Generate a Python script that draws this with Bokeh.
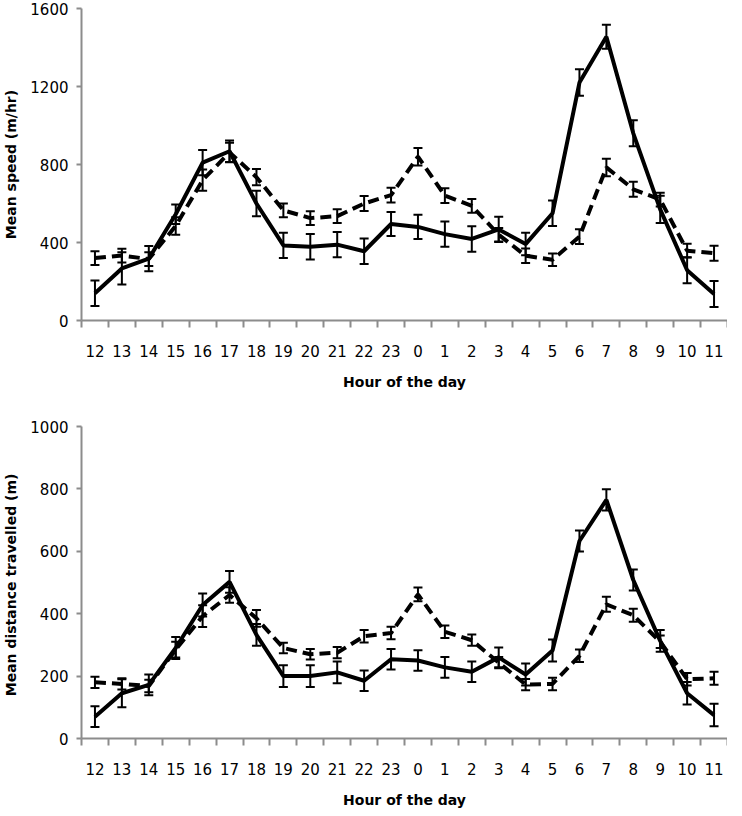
from bokeh.plotting import figure
from bokeh.layouts import column
from bokeh.models import ColumnDataSource, Whisker, FixedTicker, TeeHead, Range1d
from bokeh.embed import file_html
from bokeh.resources import INLINE

hours = ["12", "13", "14", "15", "16", "17", "18", "19", "20", "21", "22", "23",
         "0", "1", "2", "3", "4", "5", "6", "7", "8", "9", "10", "11"]

# Top panel: mean speed (m/hr)
speed_solid = [140, 267, 317, 545, 810, 868, 600, 385, 378, 389, 355, 495,
               480, 443, 418, 467, 392, 550, 1220, 1455, 960, 570, 258, 136]
speed_solid_err = [65, 83, 65, 50, 65, 55, 65, 65, 65, 65, 65, 62,
                   62, 65, 65, 65, 58, 65, 68, 62, 67, 70, 67, 67]
speed_dashed = [320, 333, 315, 485, 720, 862, 735, 565, 525, 535, 600, 643,
                840, 640, 588, 440, 332, 312, 430, 785, 673, 620, 358, 345]
speed_dashed_err = [35, 35, 35, 45, 55, 50, 42, 35, 35, 35, 38, 38,
                    45, 38, 35, 35, 37, 32, 38, 45, 38, 35, 35, 38]

# Bottom panel: mean distance travelled (m)
dist_solid = [70, 145, 172, 290, 428, 502, 332, 200, 200, 212, 185, 254,
              250, 228, 214, 260, 205, 282, 633, 765, 508, 313, 145, 75]
dist_solid_err = [33, 45, 33, 35, 37, 35, 35, 35, 35, 35, 33, 33,
                  33, 33, 33, 32, 35, 35, 34, 34, 34, 35, 36, 36]
dist_dashed = [180, 175, 168, 285, 392, 460, 385, 290, 270, 275, 328, 338,
               462, 342, 315, 243, 173, 175, 265, 430, 395, 310, 190, 193]
dist_dashed_err = [18, 18, 20, 25, 35, 25, 27, 17, 17, 18, 20, 20,
                   22, 20, 18, 18, 18, 20, 20, 24, 21, 20, 20, 21]

speed_ticks = [0, 400, 800, 1200, 1600]
dist_ticks = [0, 200, 400, 600, 800, 1000]

FONT = "DejaVu Sans"
AXIS_COL = "#8c8c8c"


def make_panel(solid, solid_err, dashed, dashed_err, ymax, yticks, ylabel,
               border_top):
    n = len(hours)
    centers = [i + 0.5 for i in range(n)]
    bounds = [float(i) for i in range(n + 1)]
    p = figure(frame_width=646, frame_height=312, output_backend="svg",
               toolbar_location=None, x_range=Range1d(0, n),
               y_range=Range1d(0, ymax), min_border_left=80,
               min_border_right=0, min_border_top=border_top,
               min_border_bottom=60)
    p.outline_line_color = None
    p.xgrid.visible = False
    p.ygrid.visible = False

    # x axis: labels at centres, ticks at category boundaries
    xa = p.xaxis[0]
    xa.ticker = FixedTicker(ticks=centers, minor_ticks=bounds)
    xa.major_label_overrides = {c: h for c, h in zip(centers, hours)}
    xa.major_tick_line_color = None
    xa.major_tick_out = 0
    xa.major_tick_in = 0
    xa.minor_tick_out = 7
    xa.minor_tick_in = 0
    xa.minor_tick_line_color = AXIS_COL
    xa.minor_tick_line_width = 2
    xa.axis_line_color = AXIS_COL
    xa.axis_line_width = 2
    xa.major_label_standoff = 17
    xa.major_label_text_font = FONT
    xa.major_label_text_font_size = "15px"
    xa.major_label_text_color = "black"
    xa.axis_label = "Hour of the day"
    xa.axis_label_text_font = FONT
    xa.axis_label_text_font_style = "bold"
    xa.axis_label_text_font_size = "14px"
    xa.axis_label_text_color = "black"
    xa.axis_label_standoff = 14

    ya = p.yaxis[0]
    ya.ticker = FixedTicker(ticks=yticks)
    ya.minor_tick_line_color = None
    ya.major_tick_out = 5
    ya.major_tick_in = 0
    ya.major_tick_line_color = AXIS_COL
    ya.major_tick_line_width = 2
    ya.axis_line_color = AXIS_COL
    ya.axis_line_width = 2
    ya.major_label_standoff = 8
    ya.major_label_text_font = FONT
    ya.major_label_text_font_size = "15px"
    ya.major_label_text_color = "black"
    ya.axis_label = ylabel
    ya.axis_label_text_font = FONT
    ya.axis_label_text_font_style = "bold"
    ya.axis_label_text_font_size = "14px"
    ya.axis_label_text_color = "black"
    ya.axis_label_standoff = 8

    for vals, errs, dash in ((dashed, dashed_err, "11 6"),
                             (solid, solid_err, "solid")):
        src = ColumnDataSource(dict(
            x=centers, y=vals,
            lo=[v - e for v, e in zip(vals, errs)],
            hi=[v + e for v, e in zip(vals, errs)]))
        p.line("x", "y", source=src, line_color="black", line_width=4,
               line_dash=dash)
        w = Whisker(base="x", lower="lo", upper="hi", source=src,
                    line_color="black", line_width=2,
                    upper_head=TeeHead(size=9, line_color="black", line_width=2),
                    lower_head=TeeHead(size=9, line_color="black", line_width=2))
        p.add_layout(w)
    return p


p1 = make_panel(speed_solid, speed_solid_err, speed_dashed, speed_dashed_err,
                1600, speed_ticks, "Mean speed (m/hr)", 8)
p2 = make_panel(dist_solid, dist_solid_err, dist_dashed, dist_dashed_err,
                1000, dist_ticks, "Mean distance  travelled (m)", 34)

layout = column(p1, p2, spacing=0)
open("out.html", "w").write(file_html(layout, INLINE))
